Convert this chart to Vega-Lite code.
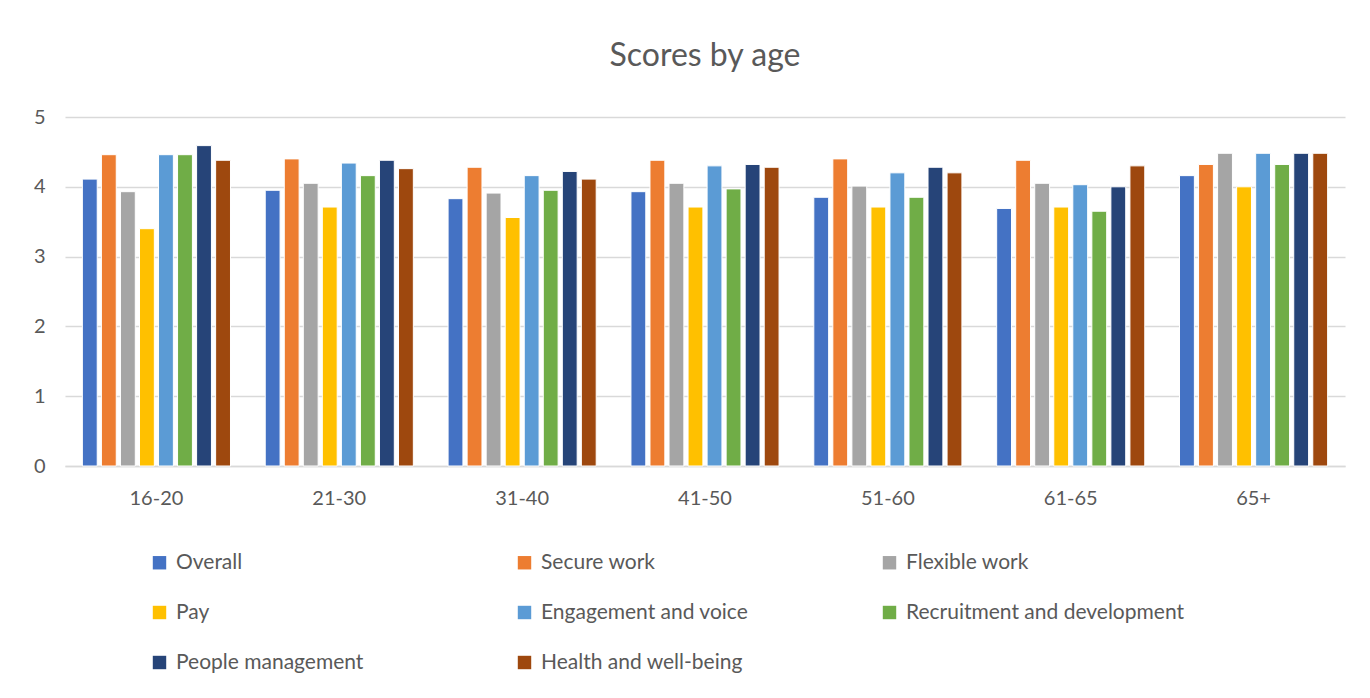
{
  "$schema": "https://vega.github.io/schema/vega-lite/v6.json",
  "autosize": "none",
  "width": 1280,
  "height": 349,
  "padding": {"left": 65, "top": 117, "right": 25, "bottom": 232},
  "background": "white",
  "title": {"text": "Scores by age", "fontSize": 32, "font": "Lato", "fontWeight": "normal", "color": "#595959", "offset": 34, "anchor": "middle"},
  "data": {"values": [
    {"age": "16-20", "measure": "Overall", "score": 4.11},
    {"age": "16-20", "measure": "Secure work", "score": 4.46},
    {"age": "16-20", "measure": "Flexible work", "score": 3.93},
    {"age": "16-20", "measure": "Pay", "score": 3.40},
    {"age": "16-20", "measure": "Engagement and voice", "score": 4.46},
    {"age": "16-20", "measure": "Recruitment and development", "score": 4.46},
    {"age": "16-20", "measure": "People management", "score": 4.59},
    {"age": "16-20", "measure": "Health and well-being", "score": 4.38},
    {"age": "21-30", "measure": "Overall", "score": 3.95},
    {"age": "21-30", "measure": "Secure work", "score": 4.40},
    {"age": "21-30", "measure": "Flexible work", "score": 4.05},
    {"age": "21-30", "measure": "Pay", "score": 3.71},
    {"age": "21-30", "measure": "Engagement and voice", "score": 4.34},
    {"age": "21-30", "measure": "Recruitment and development", "score": 4.16},
    {"age": "21-30", "measure": "People management", "score": 4.38},
    {"age": "21-30", "measure": "Health and well-being", "score": 4.26},
    {"age": "31-40", "measure": "Overall", "score": 3.83},
    {"age": "31-40", "measure": "Secure work", "score": 4.28},
    {"age": "31-40", "measure": "Flexible work", "score": 3.91},
    {"age": "31-40", "measure": "Pay", "score": 3.56},
    {"age": "31-40", "measure": "Engagement and voice", "score": 4.16},
    {"age": "31-40", "measure": "Recruitment and development", "score": 3.95},
    {"age": "31-40", "measure": "People management", "score": 4.22},
    {"age": "31-40", "measure": "Health and well-being", "score": 4.11},
    {"age": "41-50", "measure": "Overall", "score": 3.93},
    {"age": "41-50", "measure": "Secure work", "score": 4.38},
    {"age": "41-50", "measure": "Flexible work", "score": 4.05},
    {"age": "41-50", "measure": "Pay", "score": 3.71},
    {"age": "41-50", "measure": "Engagement and voice", "score": 4.30},
    {"age": "41-50", "measure": "Recruitment and development", "score": 3.97},
    {"age": "41-50", "measure": "People management", "score": 4.32},
    {"age": "41-50", "measure": "Health and well-being", "score": 4.28},
    {"age": "51-60", "measure": "Overall", "score": 3.85},
    {"age": "51-60", "measure": "Secure work", "score": 4.40},
    {"age": "51-60", "measure": "Flexible work", "score": 4.01},
    {"age": "51-60", "measure": "Pay", "score": 3.71},
    {"age": "51-60", "measure": "Engagement and voice", "score": 4.20},
    {"age": "51-60", "measure": "Recruitment and development", "score": 3.85},
    {"age": "51-60", "measure": "People management", "score": 4.28},
    {"age": "51-60", "measure": "Health and well-being", "score": 4.20},
    {"age": "61-65", "measure": "Overall", "score": 3.69},
    {"age": "61-65", "measure": "Secure work", "score": 4.38},
    {"age": "61-65", "measure": "Flexible work", "score": 4.05},
    {"age": "61-65", "measure": "Pay", "score": 3.71},
    {"age": "61-65", "measure": "Engagement and voice", "score": 4.03},
    {"age": "61-65", "measure": "Recruitment and development", "score": 3.65},
    {"age": "61-65", "measure": "People management", "score": 4.00},
    {"age": "61-65", "measure": "Health and well-being", "score": 4.30},
    {"age": "65+", "measure": "Overall", "score": 4.16},
    {"age": "65+", "measure": "Secure work", "score": 4.32},
    {"age": "65+", "measure": "Flexible work", "score": 4.48},
    {"age": "65+", "measure": "Pay", "score": 4.00},
    {"age": "65+", "measure": "Engagement and voice", "score": 4.48},
    {"age": "65+", "measure": "Recruitment and development", "score": 4.32},
    {"age": "65+", "measure": "People management", "score": 4.48},
    {"age": "65+", "measure": "Health and well-being", "score": 4.48}
  ]},
  "mark": {"type": "bar", "stroke": "white", "strokeWidth": 1},
  "encoding": {
    "x": {"field": "age", "type": "nominal", "sort": null,
      "scale": {"paddingInner": 0.19, "paddingOuter": 0.095},
      "axis": {"title": null, "labelAngle": 0, "labelFontSize": 20, "labelFont": "Lato", "labelColor": "#595959", "labelPadding": 22, "ticks": false, "domainColor": "#D9D9D9", "domainWidth": 1.5}},
    "xOffset": {"field": "measure", "type": "nominal", "sort": null, "scale": {"paddingInner": 0.22}},
    "y": {"field": "score", "type": "quantitative",
      "scale": {"domain": [0, 5], "nice": false},
      "axis": {"title": null, "values": [0, 1, 2, 3, 4, 5], "labelOverlap": false, "labelFontSize": 20, "labelFont": "Lato", "labelColor": "#595959", "labelPadding": 20, "ticks": false, "domain": false, "gridColor": "#D9D9D9", "gridWidth": 1.5}},
    "color": {"field": "measure", "type": "nominal", "sort": null,
      "scale": {"domain": ["Overall", "Secure work", "Flexible work", "Pay", "Engagement and voice", "Recruitment and development", "People management", "Health and well-being"],
        "range": ["#4472C4", "#ED7D31", "#A5A5A5", "#FFC000", "#5B9BD5", "#70AD47", "#264478", "#9E480E"]},
      "legend": {"title": null, "orient": "none", "direction": "horizontal", "legendX": 84, "legendY": 435, "columns": 3, "gridAlign": "all", "columnPadding": 60, "rowPadding": 28, "symbolType": "square", "symbolSize": 180, "symbolStrokeWidth": 0, "labelFontSize": 21, "labelFont": "Lato", "labelColor": "#595959", "labelLimit": 400, "labelOffset": 6}}
  },
  "config": {"view": {"stroke": null}}
}
